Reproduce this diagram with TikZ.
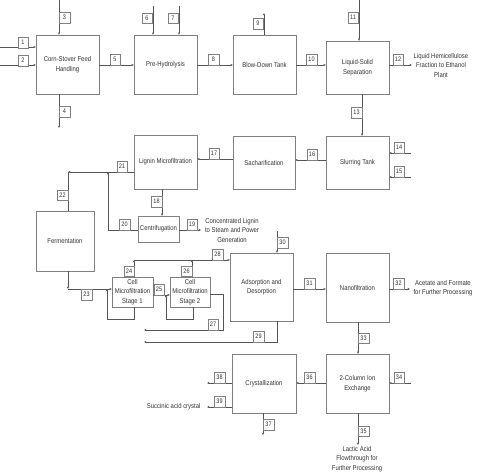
\documentclass[tikz,border=0pt]{standalone}
\usepackage{fontspec}
\newfontfamily\diagfont[FakeStretch=0.85]{Liberation Sans}
\usetikzlibrary{calc,arrows.meta}
\definecolor{boxgray}{HTML}{808080}
\definecolor{linegray}{HTML}{555555}
\definecolor{textgray}{HTML}{333333}
\tikzset{
  unit/.style={draw=boxgray,fill=white,align=center,inner sep=1pt,text=textgray,
    font=\diagfont\fontsize{7}{9.5}\selectfont},
  tag/.style={draw=boxgray,fill=white,minimum width=10.5pt,minimum height=10.5pt,
    inner sep=0pt,text=textgray,font=\diagfont\fontsize{6.5}{7}\selectfont},
  note/.style={align=center,text=textgray,font=\diagfont\fontsize{7}{9.5}\selectfont},
  flow/.style={draw=linegray,line width=0.6pt,-{Stealth[length=2.5pt,width=2.2pt]}},
  pipe/.style={draw=linegray,line width=0.6pt}
}
\def\unitnode{\node[unit]}
\def\tagnode{\node[tag]}

\begin{document}
\begin{tikzpicture}[x=1pt,y=-1pt]
\useasboundingbox (0,0) rectangle (478,475);
\unitnode[minimum width=63pt,minimum height=59pt] (feed) at (67.5,64.5) {Corn-Stover Feed\\Handling};
\unitnode[minimum width=63pt,minimum height=59pt] (prehyd) at (165.5,64.5) {Pre-Hydrolysis};
\unitnode[minimum width=63pt,minimum height=59pt] (blowdown) at (264.5,64.5) {Blow-Down Tank};
\unitnode[minimum width=63pt,minimum height=53pt] (lss) at (357.5,67.5) {Liquid-Solid\\Separation};
\unitnode[minimum width=63pt,minimum height=54pt] (lignin) at (165.5,162) {Lignin Microfiltration};
\unitnode[minimum width=62pt,minimum height=53pt] (sacch) at (264,162.5) {Sacharification};
\unitnode[minimum width=63pt,minimum height=53pt] (slurry) at (357.5,162.5) {Slurring Tank};
\unitnode[minimum width=41pt,minimum height=26pt] (centrif) at (158.5,229) {Centrifugation};
\unitnode[minimum width=58pt,minimum height=60pt] (ferm) at (65,241) {Fermentation};
\unitnode[minimum width=41pt,minimum height=30pt] (cmfa) at (132.5,292) {Cell\\Microfiltration\\Stage 1};
\unitnode[minimum width=40pt,minimum height=30pt] (cmfb) at (190,292) {Cell\\Microfiltration\\Stage 2};
\unitnode[minimum width=63pt,minimum height=68pt] (adsorp) at (261.5,287) {Adsorption and\\Desorption};
\unitnode[minimum width=63pt,minimum height=69pt] (nano) at (357.5,287.5) {Nanofiltration};
\unitnode[minimum width=64pt,minimum height=59pt] (crystal) at (264,383.5) {Crystallization};
\unitnode[minimum width=63pt,minimum height=59pt] (ionex) at (357.5,383.5) {2-Column Ion\\Exchange};

\coordinate (in1) at (0,47);
\coordinate (in2) at (0,65);
\coordinate (in3) at (59,0);
\coordinate (out4) at (59,128);
\coordinate (in6) at (153,6);
\coordinate (in7) at (179,6);
\coordinate (out9) at (264,13);
\coordinate (in11) at (359,0);
\coordinate (out12) at (412,65);
\coordinate (in14) at (411,153);
\coordinate (in15) at (411,177);
\coordinate (out19) at (201,230);
\coordinate (j20) at (108,230);
\coordinate (j21) at (108,172);
\coordinate (j22) at (68,172);
\coordinate (j23) at (68,289);
\coordinate (j28) at (134,260);
\coordinate (j26) at (192,260);
\coordinate (out27) at (144,330);
\coordinate (out29) at (144,342);
\coordinate (in30) at (277,231);
\coordinate (out32) at (410,289);
\coordinate (in34) at (411,383);
\coordinate (out35) at (358,445);
\coordinate (out37) at (263,435);
\coordinate (out38) at (207,383);
\coordinate (out39) at (207,407);

\draw[flow] (in1) -- (feed.west |- in1);
\draw[flow] (in2) -- (feed.west |- in2);
\draw[flow] (in3) -- (feed.north -| in3);
\draw[flow] (feed.south -| out4) -- (out4);
\draw[flow] (feed.east |- 0,65) -- (prehyd.west |- 0,65);
\draw[flow] (in6) -- (prehyd.north -| in6);
\draw[flow] (in7) -- (prehyd.north -| in7);
\draw[flow] (prehyd.east |- 0,65) -- (blowdown.west |- 0,65);
\draw[flow] (blowdown.north -| out9) -- (out9);
\draw[flow] (blowdown.east |- 0,65) -- (lss.west |- 0,65);
\draw[flow] (in11) -- (lss.north -| in11);
\draw[flow] (lss.east |- out12) -- (out12);
\draw[flow] (lss.south -| 362,0) -- (slurry.north -| 362,0);
\draw[flow] (in14) -- (slurry.east |- in14);
\draw[flow] (in15) -- (slurry.east |- in15);
\draw[flow] (slurry.west |- 0,160) -- (sacch.east |- 0,160);
\draw[flow] (sacch.west |- 0,159) -- (lignin.east |- 0,159);
\draw[flow] (lignin.south -| 162,0) -- (centrif.north -| 162,0);
\draw[flow] (centrif.east |- out19) -- (out19);
\draw[flow] (centrif.west |- j20) -- (j20) -- (j21);
\draw[flow] (lignin.west |- j22) -- (j22);
\draw[pipe] (j22) -- (ferm.north -| j22);
\draw[flow] (ferm.south -| j23) -- (j23);
\draw[flow] (j23) -- (cmfa.west |- j23);
\draw[flow] (cmfa.south -| 134,0) -- (134,319) -- (107,319) -- (107,289);
\draw[flow] (cmfa.east |- 0,295) -- (cmfb.west |- 0,295);
\draw[flow] (cmfb.south -| 193,0) -- (193,319) -- (166,319) -- (166,295);
\draw[flow] (cmfa.north -| j28) -- (j28);
\draw[flow] (cmfb.north -| j26) -- (j26);
\draw[flow] (j28) -- (adsorp.west |- j28);
\draw[flow] (cmfb.east |- 0,294) -- (223,294) -- (223,330) -- (out27);
\draw[flow] (adsorp.south -| 277,0) -- (277,342) -- (out29);
\draw[flow] (in30) -- (adsorp.north -| in30);
\draw[flow] (adsorp.east |- 0,289) -- (nano.west |- 0,289);
\draw[flow] (nano.east |- out32) -- (out32);
\draw[flow] (nano.south -| 358,0) -- (ionex.north -| 358,0);
\draw[flow] (in34) -- (ionex.east |- in34);
\draw[flow] (ionex.south -| out35) -- (out35);
\draw[flow] (ionex.west |- 0,383) -- (crystal.east |- 0,383);
\draw[flow] (crystal.south -| out37) -- (out37);
\draw[flow] (crystal.west |- out38) -- (out38);
\draw[flow] (crystal.west |- out39) -- (out39);

\tagnode (t1) at (23,42.5) {1};
\tagnode (t2) at (23,60.5) {2};
\tagnode (t3) at (64.5,17.5) {3};
\tagnode (t4) at (64.5,111.5) {4};
\tagnode (t5) at (115,59.5) {5};
\tagnode (t6) at (147,18) {6};
\tagnode (t7) at (173,18) {7};
\tagnode (t8) at (213.5,59.5) {8};
\tagnode (t9) at (258,23.5) {9};
\tagnode (t10) at (311.5,59.5) {10};
\tagnode (t11) at (353,17.5) {11};
\tagnode (t12) at (398,59.5) {12};
\tagnode (t13) at (356.5,112.5) {13};
\tagnode (t14) at (399,147.5) {14};
\tagnode (t15) at (399,171.5) {15};
\tagnode (t16) at (312,154.5) {16};
\tagnode (t17) at (214,153.5) {17};
\tagnode (t18) at (156.5,201.5) {18};
\tagnode (t19) at (192,224.5) {19};
\tagnode (t20) at (124.5,224.5) {20};
\tagnode (t21) at (122,166.5) {21};
\tagnode (t22) at (62.5,195) {22};
\tagnode (t23) at (86.5,294.5) {23};
\tagnode (t24) at (129,271) {24};
\tagnode (t25) at (159,289.5) {25};
\tagnode (t26) at (186.5,271) {26};
\tagnode (t27) at (213,324.5) {27};
\tagnode (t28) at (217.5,254.5) {28};
\tagnode (t29) at (258.5,336.5) {29};
\tagnode (t30) at (282.5,242.5) {30};
\tagnode (t31) at (309.5,283.5) {31};
\tagnode (t32) at (398.5,283.5) {32};
\tagnode (t33) at (363.5,338) {33};
\tagnode (t34) at (399,377.5) {34};
\tagnode (t35) at (363.5,431) {35};
\tagnode (t36) at (309.5,377.5) {36};
\tagnode (t37) at (268.5,424.5) {37};
\tagnode (t38) at (219.5,377.5) {38};
\tagnode (t39) at (219.5,401.5) {39};

\node[note] (hemi) at (441,65) {Liquid Hemicellulose\\Fraction to Ethanol\\Plant};
\node[note] (steam) at (232,230) {Concentrated Lignin\\to Steam and Power\\Generation};
\node[note] (acetate) at (443,288) {Acetate and Formate\\for Further Processing};
\node[note] (lactic) at (357,459) {Lactic Acid\\Flowthrough for\\Further Processing};
\node[note,anchor=east] (succinic) at (204,407) {Succinic acid crystal};
\end{tikzpicture}
\end{document}
